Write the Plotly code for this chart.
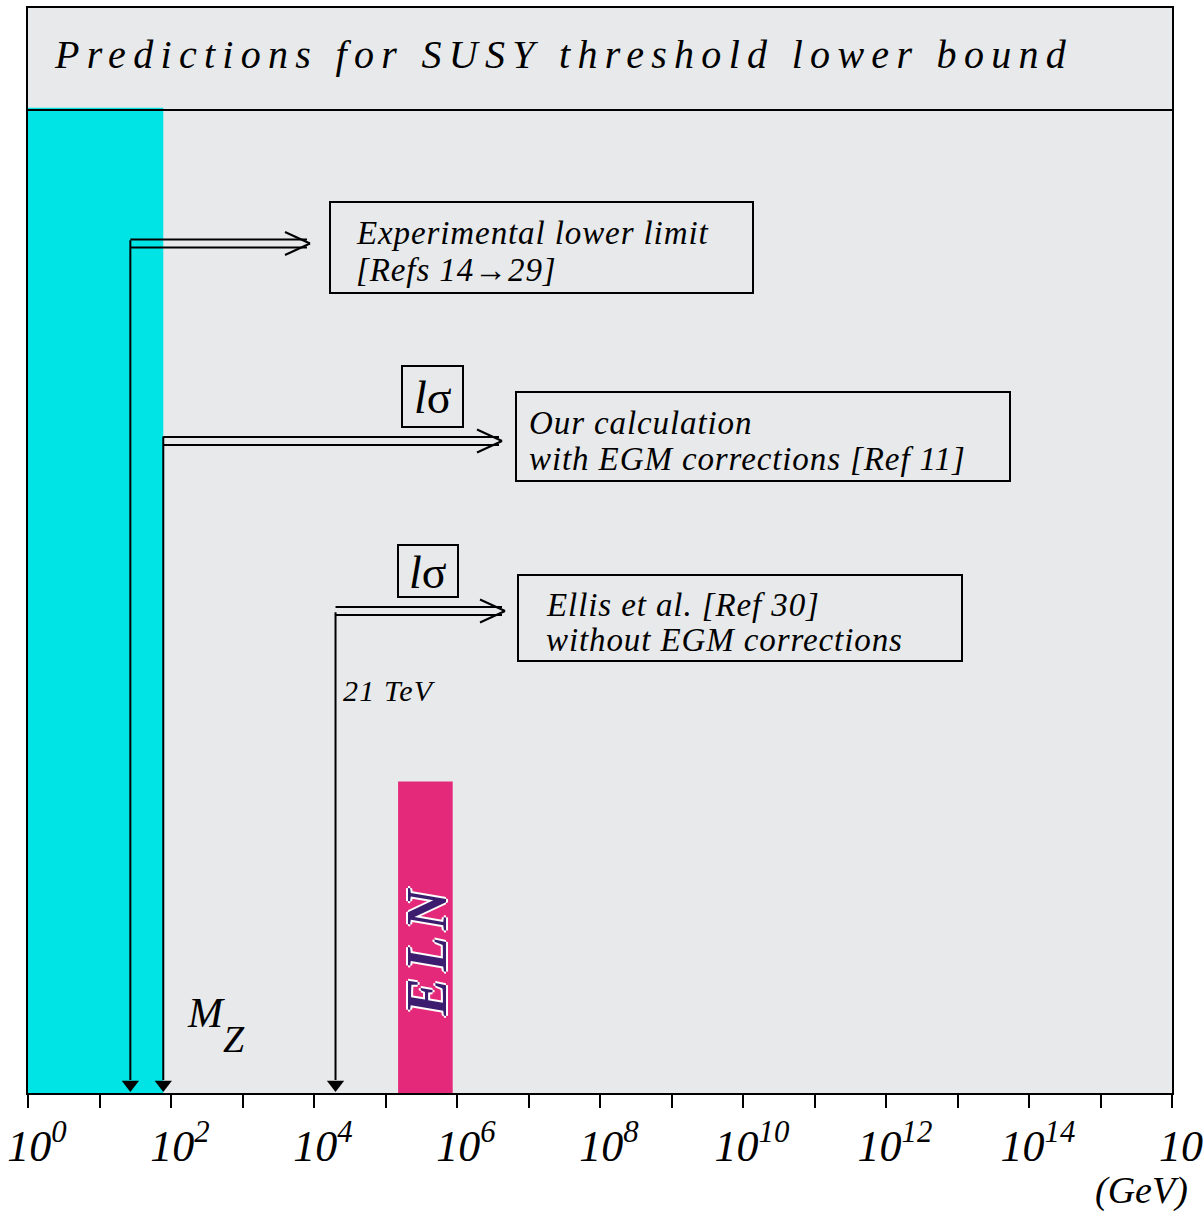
import json
import plotly.graph_objects as go

# ---------------- data ----------------
decades = list(range(0, 17))                      # log10(E/GeV) tick positions
tick_labels = ["10<sup>%d</sup>" % d if d % 2 == 0 else "" for d in decades]
tick_labels[-1] = "10"                            # last label is clipped in original

limit_names = ["Experimental lower limit", "Our calculation", "Ellis et al."]
limit_gev = [27.0, 78.0, 2.0e4]                   # lower-bound positions (GeV)
limit_top = [0.786, 0.605, 0.443]                 # schematic height of the vertical arrows

cyan_band_gev = [1.0, 78.0]                       # excluded region
cyan_band_height = 0.908
eln_band_gev = [1.5e5, 8.7e5]                     # ELN prediction band
eln_band_height = 0.287

# ---------------- geometry helpers (layout only) ----------------
W, H = 1203, 1217
L, R, T, B = 28, 1172, 8, 1093
PX_PER_DECADE = (R - L) / 16


def px(x):
    return (x - L) / (R - L)


def py(y):
    return (B - y) / (B - T)


FONT = "Liberation Serif"
GRAY = "#e7e9ea"
CYAN = "#00e4e6"
PINK = "#e4287a"

fig = go.Figure()

# cyan band
fig.add_trace(go.Scatter(
    x=[cyan_band_gev[0], cyan_band_gev[1], cyan_band_gev[1], cyan_band_gev[0], cyan_band_gev[0]],
    y=[0, 0, cyan_band_height, cyan_band_height, 0],
    fill="toself", fillcolor=CYAN, line=dict(width=0), mode="lines",
    hoverinfo="skip", showlegend=False))

# ELN band
fig.add_trace(go.Scatter(
    x=[eln_band_gev[0], eln_band_gev[1], eln_band_gev[1], eln_band_gev[0], eln_band_gev[0]],
    y=[0, 0, eln_band_height, eln_band_height, 0],
    fill="toself", fillcolor=PINK, line=dict(width=0), mode="lines",
    hoverinfo="skip", showlegend=False))

# vertical arrows down to the axis
for v, top in zip(limit_gev, limit_top):
    fig.add_trace(go.Scatter(x=[v, v], y=[top, 0.012], mode="lines",
                             line=dict(color="black", width=2),
                             hoverinfo="skip", showlegend=False))
    fig.add_trace(go.Scatter(x=[v], y=[8.5 / (B - T)], mode="markers",
                             marker=dict(symbol="triangle-down", size=15, color="black",
                                         line=dict(width=0)),
                             hoverinfo="skip", showlegend=False))

shapes = []
annotations = []
spacing = {}   # annotation index -> letter spacing (px)

# title separator line
shapes.append(dict(type="line", xref="paper", yref="paper", x0=0, x1=1,
                   y0=py(110), y1=py(110), line=dict(color="black", width=2)))

# horizontal double arrows (start at the limit value, end at a fixed spot)
arrow_tip_px = [310, 502, 505]
arrow_y_px = [243.5, 441, 611]
for v, tip, yc in zip(limit_gev, arrow_tip_px, arrow_y_px):
    tip_gev = 10 ** ((tip - L) / PX_PER_DECADE)
    line_end_gev = 10 ** ((tip - 3 - L) / PX_PER_DECADE)
    back_gev = 10 ** ((tip - 25 - L) / PX_PER_DECADE)
    for dy in (-4, 4):
        shapes.append(dict(type="line", xref="x", yref="paper", x0=v, x1=line_end_gev,
                           y0=py(yc + dy), y1=py(yc + dy),
                           line=dict(color="black", width=2)))
    for dy in (-11.5, 11.5):
        shapes.append(dict(type="line", xref="x", yref="paper", x0=back_gev, x1=tip_gev,
                           y0=py(yc + dy), y1=py(yc),
                           line=dict(color="black", width=2)))


def add_text(text, x, y, size, xanchor="left", yanchor="middle", ls=0, **fontkw):
    font = dict(family=FONT, size=size, color="black", style="italic")
    font.update(fontkw)
    annotations.append(dict(text=text, x=px(x), y=py(y), xref="paper", yref="paper",
                            xanchor=xanchor, yanchor=yanchor,
                            align="left" if xanchor == "left" else "center",
                            showarrow=False, font=font))
    if ls:
        spacing[len(annotations) - 1] = ls


# text boxes
boxes = [
    (330, 202, 753, 293, [("Experimental lower limit", 354, 233), ("[Refs 14→29]", 354, 270)]),
    (516, 392, 1010, 481, [("Our calculation", 527, 423), ("with EGM corrections [Ref 11]", 527, 459)]),
    (518, 575, 962, 661, [("Ellis et al. [Ref 30]", 544, 605), ("without EGM corrections", 544, 640)]),
]
for x0, y0, x1, y1, lines in boxes:
    shapes.append(dict(type="rect", xref="paper", yref="paper", x0=px(x0), x1=px(x1),
                       y0=py(y0), y1=py(y1), line=dict(color="black", width=2)))
    for txt, tx, ty in lines:
        add_text(txt, tx, ty, 33, ls=0.9)

# 1 sigma boxes
for x0, y0, x1, y1 in [(402, 366, 463, 427), (398, 545, 458, 597)]:
    shapes.append(dict(type="rect", xref="paper", yref="paper", x0=px(x0), x1=px(x1),
                       y0=py(y0), y1=py(y1), line=dict(color="black", width=2)))
    add_text("<i>l</i>σ", (x0 + x1) / 2, (y0 + y1) / 2 + 1, 46, xanchor="center", style="normal")

# title
add_text("Predictions for SUSY threshold lower bound", 52, 55, 40, ls=7.3)

# 21 TeV
add_text("21 TeV", 341, 690, 30, ls=1.2)

# M_Z
add_text("M", 185, 1013, 42)
add_text("Z", 221, 1039, 38)

# ELN label
add_text("ELN", 427, 948, 56, xanchor="center", ls=7, color="#3b1c6e", weight="bold",
         shadow="2px 0 0 white, -2px 0 0 white, 0 2px 0 white, 0 -2px 0 white")
annotations[-1]["textangle"] = -90

# (GeV)
add_text("(GeV)", 1190, 1190, 38, xanchor="right")

fig.update_layout(
    width=W, height=H,
    margin=dict(l=L, r=W - R, t=T, b=H - B, autoexpand=False),
    paper_bgcolor="white", plot_bgcolor=GRAY,
    shapes=shapes, annotations=annotations,
    showlegend=False,
    xaxis=dict(type="log", range=[0, 16], tickvals=[10 ** d for d in decades],
               ticktext=tick_labels, ticks="outside", ticklen=13, tickwidth=2,
               tickcolor="black", showline=True, linecolor="black", linewidth=2,
               mirror=True, showgrid=False, zeroline=False, automargin=False,
               tickfont=dict(family=FONT, size=44, color="black", style="italic"),
               ticklabelstandoff=0, ticklabelshift=9, ticklabeloverflow="allow",
               fixedrange=True),
    yaxis=dict(range=[0, 1], showticklabels=False, ticks="", showline=True,
               linecolor="black", linewidth=2, mirror=True, showgrid=False,
               zeroline=False, fixedrange=True, automargin=False),
)

post = """
document.body.style.margin='0';
var SP = %s;
document.querySelectorAll('g.annotation').forEach(function(g){
  var i = g.getAttribute('data-index');
  if (SP[i] !== undefined) {
    var t = g.querySelector('text.annotation-text');
    if (t) { t.style.letterSpacing = SP[i] + 'px'; }
  }
});
""" % json.dumps({str(k): v for k, v in spacing.items()})

fig.write_html("out.html", config={"displayModeBar": False}, post_script=post)
